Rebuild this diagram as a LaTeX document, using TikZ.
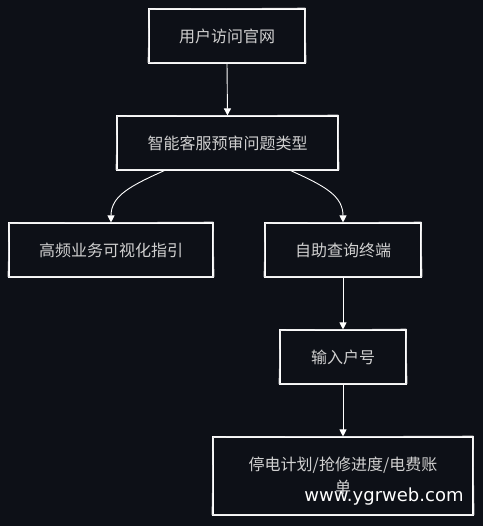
\documentclass[tikz,border=0pt]{standalone}
\usepackage{fontspec}
\newfontfamily\cjk{Noto Sans CJK SC}
\newfontfamily\wmfont{DejaVu Sans}
\usetikzlibrary{arrows.meta,calc}
\definecolor{bg}{RGB}{13,16,23}
\definecolor{txt}{RGB}{208,208,208}
\tikzset{
  box/.style={draw=white, line width=1.1pt, fill=bg, text=txt, inner sep=0pt,
    font=\cjk\fontsize{16}{23}\selectfont, align=center},
  link/.style={draw=white, line width=0.9pt, -{Triangle[length=7pt,width=7pt]}},
  sketch/.style={draw=white!80!bg, line width=0.5pt}
}
\begin{document}
\begin{tikzpicture}[x=1pt,y=-1pt]
\useasboundingbox[fill=bg] (0,0) rectangle (483,526);
\node[box, minimum width=156pt, minimum height=54pt] (n1) at (227,36) {用户访问官网};
\node[box, minimum width=221pt, minimum height=54pt] (n2) at (227.5,143) {智能客服预审问题类型};
\node[box, minimum width=204pt, minimum height=54pt] (n3) at (111,250) {高频业务可视化指引};
\node[box, minimum width=156pt, minimum height=54pt] (n4) at (343,250) {自助查询终端};
\node[box, minimum width=126pt, minimum height=54pt] (n5) at (343,357) {输入户号};
\node[box, minimum width=260pt, minimum height=78pt] (n6) at (343,476) {停电计划/抢修进度/电费账\\单};
% sketchy second strokes
\foreach \n in {n1,n2,n3,n4,n5,n6}{
  \draw[sketch] ([shift={(0.8pt,-0.6pt)}]\n.north west) -- ([shift={(-0.5pt,0.5pt)}]\n.north east)
    -- ([shift={(0.6pt,0.7pt)}]\n.south east) -- ([shift={(-0.6pt,0.8pt)}]\n.south west) -- cycle;
}
\coordinate (s2l) at ([xshift=48pt]n2.south west);
\coordinate (s2r) at ([xshift=-48pt]n2.south east);
\draw[link] (n1.south) -- (n2.north);
\draw[link] (s2l) .. controls (130,186) and (111,196) .. (n3.north);
\draw[link] (s2r) .. controls (325,186) and (343,196) .. (n4.north);
\draw[link] (n4.south) -- (n5.north);
\draw[link] (n5.south) -- (n6.north);
\node[text=white, font=\wmfont\fontsize{18}{18}\selectfont, inner sep=0pt, anchor=base] (wm) at (384,501) {www.ygrweb.com};
\end{tikzpicture}
\end{document}
